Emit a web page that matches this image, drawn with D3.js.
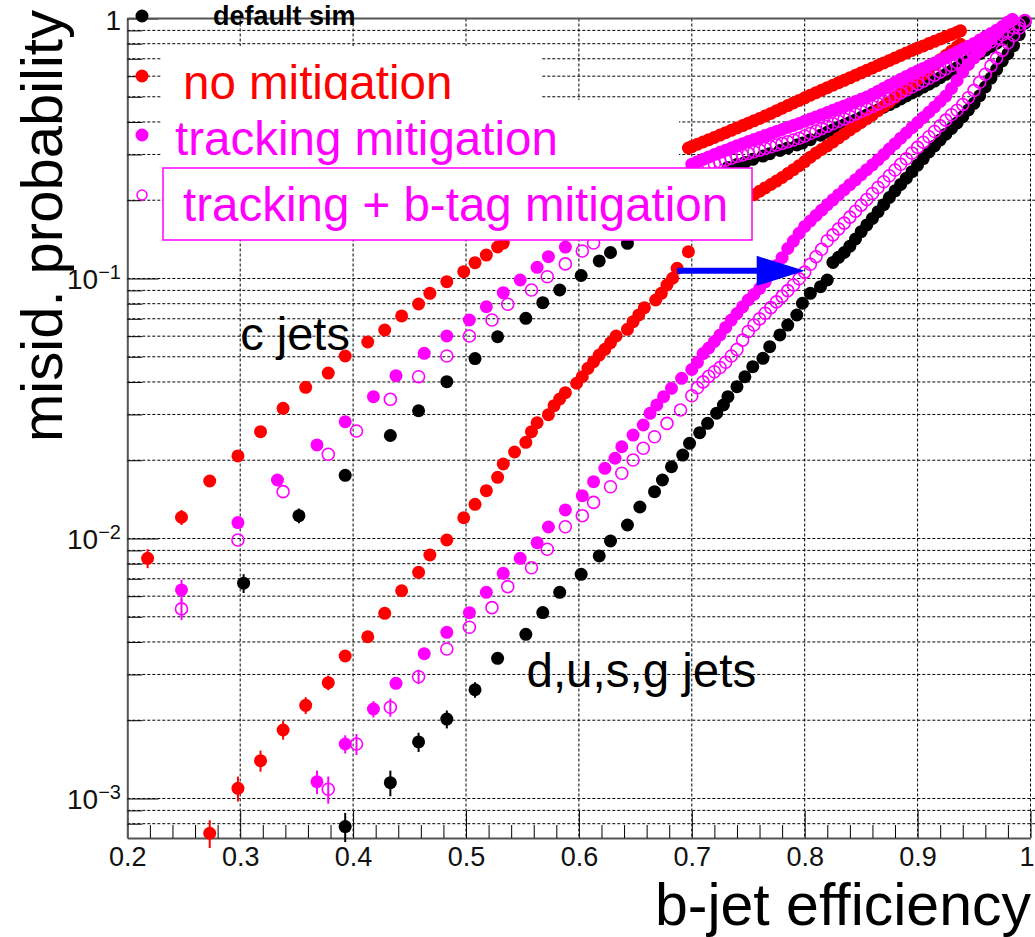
<!DOCTYPE html>
<html>
<head>
<meta charset="utf-8">
<script src="https://cdn.jsdelivr.net/npm/d3@7"></script>
<style>
  html, body { margin: 0; padding: 0; background: #fff; }
  svg { display: block; }
  text { font-family: "Liberation Sans", Arial, sans-serif; }
</style>
</head>
<body>
<svg id="chart" width="1035" height="937"></svg>
<script>
// ---------------------------------------------------------------
// b-tagging ROC curves: mis-identification probability of c jets
// and light (d,u,s,g) jets versus b-jet efficiency, for four
// simulation set-ups.  null = point not shown (covered by legend).
// ---------------------------------------------------------------

// default sim (black, filled)
const effDefault = [0.303,0.352,0.393,0.433,0.458,0.483,0.508,0.528,0.553,0.568,0.583,0.602,0.618,0.628,0.643,0.654,0.667,0.674,0.682,0.692,0.698,0.707,0.714,0.722,0.728,0.732,0.740,0.747,0.754,0.763,0.769,0.778,0.785,0.793,0.798,0.805,0.814,0.820,
  0.825,0.830,0.835,0.840,0.845,0.850,0.855,0.860,0.865,0.870,0.875,0.880,0.885,0.890,0.895,0.900,0.905,0.910,0.915,0.920,0.925,0.930,0.935,0.940,0.945,0.950,0.955,0.960,0.965,0.970,0.975,0.980,0.985,0.990,0.995];
const cDefault = [0.00673,0.01224,0.0175,0.0249,0.0310,0.0401,0.0492,0.0597,0.0703,0.0807,0.0903,0.1027,0.1168,0.1259,0.1365,null,null,null,null,null,null,null,null,null,null,0.2675,0.2745,0.2796,0.2873,0.2958,0.302,0.3106,0.3178,0.3261,0.3319,0.342,0.3556,0.3649,
  0.3735,0.3815,0.3899,0.3984,0.4072,0.416,0.4258,0.4355,0.4457,0.456,0.4666,0.4775,0.4901,0.5035,0.517,0.5303,0.5447,0.5588,0.5743,0.592,0.6101,0.6287,0.6479,0.6678,0.6887,0.7103,0.7328,0.756,0.7798,0.8035,0.829,0.8542,0.8883,0.9275,0.9694];
const lightDefault = [null,null,0.00078,0.00115,0.00165,0.00202,0.00262,0.00346,0.00428,0.00519,0.00621,0.00728,0.00857,0.00978,0.01127,0.01322,0.01514,0.01679,0.01888,0.02094,0.02323,0.02553,0.02773,0.03034,0.03261,0.0351,0.03837,0.04188,0.04581,0.04933,0.05467,0.06067,0.06622,0.07239,0.0803,0.0877,0.093,0.0987,
  0.1153,0.1206,0.1259,0.1331,0.1419,0.1514,0.1607,0.1702,0.1807,0.1923,0.2049,0.2174,0.2301,0.2432,0.2576,0.273,0.2893,0.3065,0.3236,0.3412,0.3589,0.3776,0.3967,0.4192,0.4446,0.4716,0.5045,0.5451,0.5902,0.6378,0.6862,0.7322,0.7853,0.867,0.959];

// no mitigation (red, filled)
const effNoMit = [0.218,0.248,0.273,0.298,0.318,0.338,0.358,0.378,0.393,0.413,0.428,0.443,0.458,0.468,0.483,0.498,0.508,0.518,0.528,0.533,0.543,0.553,0.558,0.563,0.573,0.578,0.583,0.588,0.598,0.603,0.608,0.613,0.618,0.623,0.628,0.633,0.643,0.648,0.653,0.658,0.668,0.673,0.678,0.683,0.687,0.697,
  0.700,0.705,0.710,0.715,0.720,0.725,0.730,0.735,0.740,0.745,0.750,0.755,0.760,0.765,0.770,0.775,0.780,0.785,0.790,0.795,0.800,0.805,0.810,0.815,0.820,0.825,0.830,0.835,0.840,0.845,0.850,0.855,0.860,0.865,0.870,0.875,0.880,0.885,0.890,0.895,0.900,0.905,0.910,0.915,0.920,0.925,0.930,0.935,0.938];
const cNoMit = [0.00839,0.01207,0.01664,0.02077,0.02575,0.03168,0.03815,0.04329,0.05035,0.05698,0.06339,0.07176,0.0798,0.08771,0.0972,0.1062,0.115,0.1231,0.1322,0.1369,
  null,null,null,null,null,null,null,null,null,null,null,null,null,null,null,null,null,null,null,null,null,null,null,null,null,0.3177,
  0.3217,0.3283,0.335,0.3419,0.3489,0.3561,0.3637,0.3715,0.3795,0.3873,0.3956,0.4041,0.4124,0.4217,0.4315,0.4416,0.4519,0.4624,0.4732,0.4842,0.4955,0.507,0.5183,0.5299,0.5418,0.5539,0.5663,0.5784,0.5914,0.6047,0.6182,0.6321,0.6457,0.6601,0.6749,0.69,0.7055,0.7213,0.7375,0.754,0.7695,0.7846,0.8008,0.8172,0.8341,0.8511,0.8685,0.8857,0.8968];
const lightNoMit = [null,null,0.000735,0.001094,0.001398,0.001834,0.002283,0.002789,0.003532,0.00419,0.005156,0.006297,0.007413,0.00864,0.009867,0.01202,0.01353,0.01527,0.01719,0.01934,0.02151,0.02344,0.02575,0.02788,0.02993,0.03242,0.0344,0.03637,0.03954,0.04191,0.04514,0.04786,0.05077,0.0534,0.05662,0.06009,0.06377,0.06823,0.0724,0.07721,0.08265,0.08771,0.09441,0.1002,0.1094,0.1268,
  null,null,null,null,null,null,null,null,null,null,null,
  0.2101,0.2165,0.2231,0.2299,0.2369,0.2446,0.2532,0.2621,0.2716,0.2817,0.2928,0.3036,0.3134,0.3239,0.3353,0.3474,0.3596,0.3726,0.3853,0.3985,0.4121,0.4262,0.4423,0.4594,0.4777,0.4967,0.5172,0.5389,0.5618,0.5852,0.6101,0.6372,0.6644,0.6938,0.7201,0.7487,0.7778,0.796];

// tracking mitigation (magenta, filled)
const effTrk = [0.248,0.298,0.333,0.368,0.393,0.418,0.438,0.463,0.483,0.503,0.518,0.533,0.548,0.563,0.573,0.588,0.603,0.613,0.623,0.632,0.638,0.648,0.657,0.663,0.669,0.675,0.682,0.691,
  0.700,0.705,0.710,0.715,0.720,0.725,0.730,0.735,0.740,0.745,0.750,0.755,0.760,0.765,0.770,0.775,0.780,0.785,0.790,0.795,0.800,0.805,0.810,0.815,0.820,0.825,0.830,0.835,0.840,0.845,0.850,0.855,0.860,0.865,0.870,0.875,0.880,0.885,0.890,0.895,0.900,0.905,0.910,0.915,0.920,0.925,0.930,0.935,0.940,0.945,0.950,0.955,0.960,0.965,0.970,0.975,0.980,0.984];
const cTrk = [0.00634,0.01151,0.01679,0.02291,0.02812,0.0351,0.04228,0.05156,0.06009,0.06923,0.07787,0.08818,0.09867,0.1104,0.1213,0.1321,
  null,null,null,null,null,null,null,null,null,null,null,null,
  0.2752,0.2813,0.2873,0.2935,0.2999,0.3057,0.3117,0.3177,0.3239,0.33,0.3364,0.3424,0.3486,0.3548,0.3612,0.3676,0.3742,0.3813,0.388,0.395,0.4023,0.4102,0.4183,0.4266,0.435,0.4435,0.4522,0.4611,0.4702,0.4795,0.4889,0.4986,0.5114,0.5253,0.5394,0.5539,0.5683,0.5836,0.5988,0.6139,0.6282,0.6428,0.6584,0.6742,0.6906,0.7072,0.7254,0.7434,0.7627,0.7819,0.8021,0.8259,0.8503,0.8756,0.9016,0.9316,0.9634,0.9894];
const lightTrk = [null,null,null,0.00116,0.00162,0.002209,0.002773,0.003606,0.004356,0.005184,0.006209,0.007345,0.008391,0.009634,0.01107,0.01288,0.01461,0.01654,0.01862,0.02035,0.02254,0.025,0.02732,0.0303,0.03263,0.0351,0.03782,0.0413,
  0.04467,0.04761,0.05142,0.05403,0.05723,0.06062,0.06486,0.06918,0.07334,0.0778,0.08265,0.08686,0.09145,0.09712,0.1042,0.1122,0.1203,0.1304,0.1393,0.1492,0.1586,0.1664,0.1747,0.1831,0.1922,0.2008,0.2101,0.2195,0.2295,0.2396,0.2506,0.2621,0.2737,0.2863,0.2999,0.3148,0.33,0.3464,0.3627,0.38,0.3977,0.416,0.436,0.4571,0.4795,0.5029,0.5379,0.5779,0.622,0.6661,0.705,0.7461,0.7888,0.8341,0.8764,0.9218,0.9687,0.991];

// tracking + b-tag mitigation (magenta, open)
const effTrkBtag = [0.248,0.298,0.338,0.378,0.403,0.433,0.458,0.483,0.503,0.523,0.537,0.558,0.572,0.588,0.603,0.613,0.628,0.638,0.648,0.657,0.667,0.678,0.690,
  0.700,0.705,0.710,0.715,0.720,0.725,0.730,0.735,0.740,0.745,0.750,0.755,0.760,0.765,0.770,0.775,0.780,0.785,0.790,0.795,0.800,0.805,0.810,0.815,0.820,0.825,0.830,0.835,0.840,0.845,0.850,0.855,0.860,0.865,0.870,0.875,0.880,0.885,0.890,0.895,0.900,0.905,0.910,0.915,0.920,0.925,0.930,0.935,0.940,0.945,0.950,0.955,0.960,0.965,0.970,0.975,0.980,0.985,0.990,0.995];
const cTrkBtag = [0.00536,0.00987,0.01514,0.02109,0.02591,0.0343,0.04191,0.05035,0.06012,0.06923,0.0796,0.0903,0.1016,0.1138,0.1276,0.1369,
  null,null,null,null,null,null,null,
  null,null,null,0.2714,0.276,0.2806,0.2853,0.2902,0.2951,0.2988,0.303,0.3074,0.3118,0.3166,0.3211,0.326,0.3309,0.3359,0.341,0.3462,0.3532,0.3612,0.369,0.3771,0.3853,0.3939,0.4023,0.4109,0.4202,0.4292,0.4388,0.449,0.459,0.4697,0.4806,0.4918,0.5035,0.5169,0.5309,0.5451,0.5593,0.5743,0.5893,0.6056,0.6231,0.6409,0.6593,0.6782,0.6977,0.7201,0.7428,0.766,0.7902,0.8151,0.8398,0.8663,0.8929,0.9209,0.9482,0.977];
const lightTrkBtag = [null,null,null,0.001085,0.00162,0.002244,0.00294,0.003758,0.004555,0.00542,0.006527,0.00772,0.00909,0.0111,0.01224,0.01377,0.01582,0.01782,0.02004,0.02223,0.02463,0.02773,0.03119,
  0.03539,0.03799,0.04002,0.04205,0.0438,0.04546,0.04761,0.05035,0.05333,0.05794,0.06255,0.06624,0.06991,0.07353,0.07727,0.08128,0.0854,0.08984,0.09441,0.09973,0.1058,0.1135,0.1213,0.1295,0.1397,0.1472,0.1552,0.1633,0.1722,0.1815,0.1914,0.2014,0.2123,0.2239,0.2356,0.2483,0.2615,0.2749,0.2888,0.3039,0.3193,0.3344,0.3508,0.3676,0.3866,0.4064,0.4262,0.4436,0.4666,0.4958,0.5289,0.5683,0.6105,0.6571,0.7041,0.754,0.8065,0.8619,0.9194,0.9824];

// statistical uncertainties large enough to show outside the marker: [efficiency, sigma]
const errDefaultC = [[0.303,0.00056],[0.352,0.0008]];
const errDefaultLight = [[0.393,0.0001],[0.433,0.00013],[0.458,0.00014],[0.483,0.00016],[0.508,0.00018]];
const errNoMitC = [[0.218,0.0007],[0.248,0.0008]];
const errNoMitLight = [[0.273,0.00009],[0.298,0.00012],[0.318,0.00013],[0.338,0.00015],[0.358,0.00017],[0.378,0.00018]];
const errTrkC = [[0.248,0.0006]];
const errTrkLight = [[0.368,0.00012],[0.393,0.00013],[0.418,0.00016]];
const errTrkBtagC = [[0.248,0.0005]];
const errTrkBtagLight = [[0.378,0.00013],[0.403,0.00015],[0.433,0.00018],[0.458,0.00019]];

// axis ticks and labels
const xTicks = [0.2,0.3,0.4,0.5,0.6,0.7,0.8,0.9,1.0];
const xTickLabels = ["0.2","0.3","0.4","0.5","0.6","0.7","0.8","0.9","1"];
const yTicks = [0.001,0.01,0.1,1];
const yTickLabels = [["10","\u22123"],["10","\u22122"],["10","\u22121"],["1",""]];

// legend entries
const legendLabels = ["default sim","no mitigation","tracking mitigation","tracking + b-tag mitigation"];
const legendColors = ["#000000","#ff0000","#ff00ff","#ff00ff"];

// ---------------------------------------------------------------
const svg = d3.select("#chart");
const W = 1035, H = 937;
const frameL = 127.3, frameR = 1030.5, frameT = 18.5, frameB = 838;

svg.append("rect").attr("width", W).attr("height", H).attr("fill", "#fff");

const x = d3.scaleLinear().domain([0.2, 1]).range([frameL, frameR]);
const y = d3.scaleLog().domain([7.048e-4, 1]).range([frameB, frameT]);

// minor positions for grid and ticks
const xMinor = d3.range(0.22, 1.0, 0.02).filter(v => Math.abs(v * 10 - Math.round(v * 10)) > 1e-6);
const yGrid = [];
[-4, -3, -2, -1].forEach(k => { for (let m = 1; m <= 9; m++) { const v = m * Math.pow(10, k); if (v > 7.1e-4 && v <= 1) yGrid.push(v); } });
yGrid.push(1);

// ---- grid ----
const grid = svg.append("g").attr("stroke", "#000").attr("stroke-width", 1).attr("stroke-dasharray", "3,2").attr("fill", "none");
xTicks.filter(v => v > 0.2).forEach(v => {
  grid.append("line").attr("x1", x(v)).attr("x2", x(v)).attr("y1", frameT).attr("y2", frameB);
});
yGrid.forEach(v => {
  grid.append("line").attr("x1", frameL).attr("x2", W).attr("y1", y(v)).attr("y2", y(v));
});

// ---- axes (ROOT style: ticks pointing into the frame) ----
const axisColor = "#555";
const gx = svg.append("g").attr("transform", `translate(0,${frameB})`)
  .call(d3.axisBottom(x).tickValues(xTicks).tickSize(-27).tickSizeOuter(0).tickPadding(9)
        .tickFormat((d, i) => xTickLabels[i]));
gx.append("g").call(d3.axisBottom(x).tickValues(xMinor).tickSize(-13).tickSizeOuter(0).tickFormat(""))
  .select(".domain").remove();
gx.selectAll(".tick line").attr("stroke", "#000").attr("stroke-width", 1);
gx.select(".domain").attr("stroke", axisColor).attr("stroke-width", 2);
gx.selectAll(".tick text").attr("font-size", 27).attr("fill", "#111")
  .attr("font-family", "'Liberation Sans', Arial, sans-serif")
  .attr("dx", d => (d === 1 ? -4 : 0));

const gy = svg.append("g").attr("transform", `translate(${frameL},0)`)
  .call(d3.axisLeft(y).tickValues(yTicks).tickSize(-31).tickSizeOuter(0).tickFormat(""));
gy.append("g").call(d3.axisLeft(y).tickValues(yGrid.filter(v => !yTicks.includes(v))).tickSize(-15).tickSizeOuter(0).tickFormat(""))
  .select(".domain").remove();
gy.selectAll(".tick line").attr("stroke", "#000").attr("stroke-width", 1);
gy.select(".domain").attr("stroke", axisColor).attr("stroke-width", 2);

// y tick labels with superscript exponents
yTicks.forEach((v, i) => {
  const t = svg.append("text").attr("x", 121).attr("y", y(v) + 11)
    .attr("text-anchor", "end").attr("font-size", 28).attr("fill", "#111");
  t.append("tspan").text(yTickLabels[i][0]);
  if (yTickLabels[i][1]) t.append("tspan").attr("dy", -10).attr("font-size", 20).text(yTickLabels[i][1]);
});

// top frame line
svg.append("line").attr("x1", frameL).attr("x2", W).attr("y1", frameT).attr("y2", frameT)
  .attr("stroke", axisColor).attr("stroke-width", 2);

// axis titles
svg.append("text").attr("transform", `translate(62,10) rotate(-90)`).attr("text-anchor", "end")
  .attr("font-size", 58).attr("fill", "#000").text("misid. probability");
svg.append("text").attr("x", 1031).attr("y", 925).attr("text-anchor", "end")
  .attr("font-size", 59).attr("fill", "#000").text("b-jet efficiency");

// ---- data ----
const R = 6.5;
function drawErrors(eff, vals, errs, color) {
  const g = svg.append("g").attr("stroke", color).attr("stroke-width", 2);
  errs.forEach(([e, s]) => {
    const i = eff.findIndex(v => Math.abs(v - e) < 1e-9);
    if (i < 0 || vals[i] == null) return;
    const p = vals[i];
    g.append("line").attr("x1", x(e)).attr("x2", x(e))
      .attr("y1", y(p + s)).attr("y2", y(Math.max(p - s, 1e-5)));
  });
}
function drawPoints(eff, vals, color, open) {
  const pts = eff.map((e, i) => [e, vals[i]]).filter(d => d[1] != null);
  svg.append("g").selectAll("circle").data(pts).join("circle")
    .attr("cx", d => x(d[0])).attr("cy", d => y(d[1]))
    .attr("r", open ? 6 : R)
    .attr("fill", open ? "none" : color)
    .attr("stroke", open ? color : "none")
    .attr("stroke-width", open ? 1.6 : 0);
}
const series = [
  { eff: effDefault, c: cDefault, l: lightDefault, ec: errDefaultC, el: errDefaultLight, color: "#000000", open: false },
  { eff: effNoMit, c: cNoMit, l: lightNoMit, ec: errNoMitC, el: errNoMitLight, color: "#ff0000", open: false },
  { eff: effTrk, c: cTrk, l: lightTrk, ec: errTrkC, el: errTrkLight, color: "#ff00ff", open: false },
  { eff: effTrkBtag, c: cTrkBtag, l: lightTrkBtag, ec: errTrkBtagC, el: errTrkBtagLight, color: "#ff00ff", open: true }
];
series.forEach(s => {
  drawErrors(s.eff, s.c, s.ec, s.color);
  drawErrors(s.eff, s.l, s.el, s.color);
  drawPoints(s.eff, s.c, s.color, s.open);
  drawPoints(s.eff, s.l, s.color, s.open);
});

// ---- annotations ----
svg.append("text").attr("x", x(0.3)).attr("y", y(0.053)).attr("font-size", 47).attr("fill", "#000").text("c jets");
svg.append("text").attr("x", x(0.5536)).attr("y", y(0.00269)).attr("font-size", 47.5).attr("fill", "#000").text("d,u,s,g jets");

// arrow marking the efficiency gain at fixed light-jet rejection
const arrowFrom = [0.687, 0.107], arrowTo = [0.800, 0.107];
const ax0 = x(arrowFrom[0]), ax1 = x(arrowTo[0]), ay = y(arrowTo[1]);
svg.append("line").attr("x1", ax0).attr("x2", ax1 - 45).attr("y1", ay).attr("y2", ay)
  .attr("stroke", "#0000ff").attr("stroke-width", 6);
svg.append("path").attr("d", `M${ax1},${ay} L${ax1 - 48},${ay - 15} L${ax1 - 48},${ay + 15} Z`).attr("fill", "#0000ff");

// ---- legend ----
const lg = svg.append("g");
// default sim
lg.append("circle").attr("cx", 142).attr("cy", 16).attr("r", R).attr("fill", legendColors[0]);
lg.append("text").attr("x", 213).attr("y", 25).attr("font-size", 27).attr("font-weight", "bold")
  .attr("fill", legendColors[0]).text(legendLabels[0]);
// no mitigation
lg.append("rect").attr("x", 162).attr("y", 46).attr("width", 379).attr("height", 54).attr("fill", "#fff");
lg.append("circle").attr("cx", 142).attr("cy", 76).attr("r", R).attr("fill", legendColors[1]);
lg.append("text").attr("x", 183).attr("y", 99).attr("font-size", 47.5).attr("fill", legendColors[1]).text(legendLabels[1]);
// tracking mitigation
lg.append("rect").attr("x", 162).attr("y", 100).attr("width", 517).attr("height", 68).attr("fill", "#fff");
lg.append("circle").attr("cx", 142).attr("cy", 135).attr("r", R).attr("fill", legendColors[2]);
lg.append("text").attr("x", 175).attr("y", 155).attr("font-size", 47.5).attr("fill", legendColors[2]).text(legendLabels[2]);
// tracking + b-tag mitigation
lg.append("rect").attr("x", 163).attr("y", 168).attr("width", 589).attr("height", 72)
  .attr("fill", "#fff").attr("stroke", legendColors[3]).attr("stroke-width", 1.5);
lg.append("circle").attr("cx", 142).attr("cy", 195).attr("r", 5).attr("fill", "none")
  .attr("stroke", legendColors[3]).attr("stroke-width", 1.5);
lg.append("text").attr("x", 183).attr("y", 221).attr("font-size", 47.5).attr("fill", legendColors[3]).text(legendLabels[3]);
</script>
</body>
</html>
